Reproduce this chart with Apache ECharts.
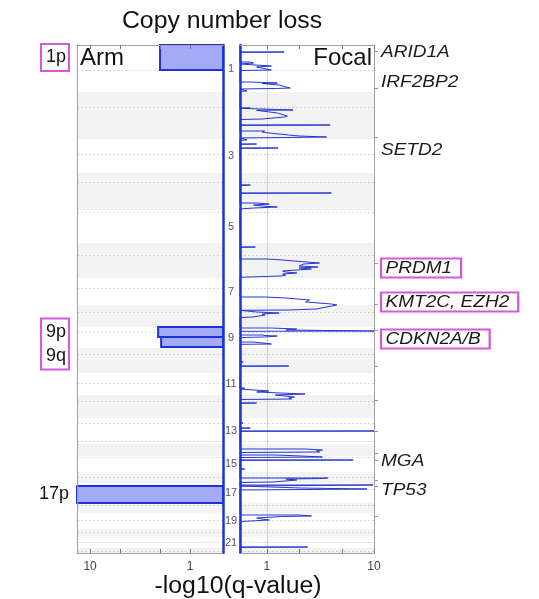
<!DOCTYPE html>
<html><head><meta charset="utf-8">
<script src="https://cdn.jsdelivr.net/npm/echarts@6/dist/echarts.min.js"></script>
<style>html,body{margin:0;padding:0;background:#fff}#c{width:539px;height:599px}</style>
</head><body><div id="c"></div>
<script>
// ---- data (genome position in scaled plot units, 0 = top of chr1) ----
const chromosomes = ['1','2','3','4','5','6','7','8','9','10','11','12','13','14','15','16','17','18','19','20','21','22'];
const chromStart = [0,47,94,128,165,198,233,260,282,303,328,350,373,399,411,427,438,458,468,484,492,503];
const genomeEnd = 508;
const centromeres = [25,62,109,137,167,210,243,267,287,309,338,356,378,396,412,432,444,460,475,487,497,506];

const armNames = ['1p','9p','9q','17p'];
const armStart = [0,282,292,441];
const armEnd = [25,292,302,458];
const armScore = [2.0,2.09,1.95,15];           // -log10(q)
const armLabelText = ['1p','9p\n9q','17p'];
const armLabelPos = [12.5,299,449];
const armLabelBoxed = [true,true,false];

const B = 0.56; // focal baseline (-log10 q at axis minimum)
const focalTrace = [
 [0,B],
 [7,B],[7,1.45],[7.3,B],
 [17,B],[17,0.69],[18,0.75],[19,B],
 [21,B],[21,1.1],[22,0.8],[23,0.8],[25,1.1],[25.5,B],
 [37,B],[37,0.7],[38,1.25],[38.5,0.9],[40,1.3],[42,1.5],[43,1.65],[43.5,1.2],[44,B],
 [46,B],[46,0.65],[46.3,B],
 [63,B],[63,0.7],[63.3,B],
 [65,B],[65,1.75],[65.3,0.8],[68,1.25],[70,1.2],[71,1.55],[72,1.45],[73,1.5],[74,0.9],[74.5,B],
 [80,B],[80,3.9],[80.3,B],
 [86,B],[86,0.95],[87,0.9],[88,1.05],[90,1.6],[91,2.0],[92,3.6],[92.5,1.5],[93,B],
 [95,B],[95,0.65],[95.3,B],
 [99,B],[99,0.8],[99.3,B],
 [103,B],[103,1.27],[103.3,B],
 [140,B],[140,0.7],[140.3,B],
 [148,B],[148,4.0],[148.3,B],
 [158,B],[158,0.8],[159,1.05],[160,0.75],[161,0.9],[162,1.25],[163,0.75],[164,B],
 [202,B],[202,0.78],[202.3,B],
 [214,B],[214,1.0],[215,1.4],[216,1.8],[218,3.1],[219,2.2],[221,2.0],[222,3.0],[223,2.0],[224,2.6],[226,1.4],[227,1.5],[228,1.9],[229,1.4],[230,1.5],[231,1.35],[232,1.3],[232.3,B],
 [252,B],[252,0.96],[253,1.5],[255,2.5],[257,2.3],[259,4.0],[260,4.5],[262,3.6],[264,2.9],[265,1.6],[265.3,B],
 [267,B],[267,0.8],[268,1.3],[269,0.9],[270,0.96],[272,0.74],[272.5,B],
 [283,B],[283,1.1],[284,1.9],[285,1.5],[286,10],[286.3,B],
 [290,B],[290,0.9],[290.5,0.96],[291,1.25],[292,0.95],[292.5,B],
 [297,B],[297,0.75],[299,1.1],[299.3,B],
 [317,B],[317,0.6],[317.3,B],
 [321,B],[321,1.6],[321.3,B],
 [343,B],[343,0.62],[344,B],
 [346,B],[346,1.04],[347,0.8],[349,2.27],[350,1.2],[352,1.8],[353,1.6],[354,1.7],[354.5,B],
 [358,B],[358,0.8],[358.3,B],
 [378,B],[378,0.6],[378.3,B],
 [383,B],[383,0.7],[383.3,B],
 [386,B],[386,10],[386.3,B],
 [404,B],[404,2.3],[405,3.3],[406,2.9],[407,3.1],[407.5,B],
 [410,B],[410,1.2],[411,2.1],[412,3.3],[412.5,B],
 [415,B],[415,6.4],[415.3,B],
 [424,B],[424,0.62],[424.3,B],
 [433,B],[433,3.7],[433.5,3.3],[434,1.5],[435,1.9],[437,1.14],[437.5,B],
 [440,B],[440,9.8],[441,B],
 [442,B],[443,2.1],[444,8.6],[444.5,8.3],[445,B],
 [470,B],[470,2.0],[471,2.6],[471.5,1.4],[473,0.8],[474,0.9],[475,1.05],[476,0.7],[476.5,B],
 [502,B],[502,2.4],[502.3,B],
 [508,B]
];
const peakTicks = [6,43,92,218,259,285,321,355,386,408,415,435,441,471];

const genes = ['ARID1A','IRF2BP2','SETD2','PRDM1','KMT2C, EZH2','CDKN2A/B','MGA','TP53'];
const genePos = [7,37,105,223,257,294,416,445];
const geneBoxed = [false,false,false,true,true,true,false,false];

const armAxisRange = [0.47, 13.5];
const focalAxisRange = [0.56, 10];
const tickValues = [1,2,5,10];
const tickLabelValues = [1,10];

// ---- chart ----
const FONT = '"Liberation Sans", Arial, sans-serif';
const MAGENTA = '#d458d8';
const BLUE = '#1f33d8';
const L = Math.log10;
const armX = [L(armAxisRange[0]), L(armAxisRange[1])];
const focX = [L(focalAxisRange[0]), L(focalAxisRange[1])];

function xAx(grid, xr, inverse, pos, showLabel){
  return {type:'value', gridIndex:grid, min:xr[0], max:xr[1], inverse:inverse, position:pos, z:5,
    axisLine:{show:true, onZero:false, lineStyle:{color:'#a0a0a0', width:1}},
    axisTick:{show:true, inside:true, length:4, customValues: tickValues.map(L), lineStyle:{color:'#777'}},
    axisLabel:{show:showLabel, customValues: tickLabelValues.map(L), formatter: v => String(Math.round(Math.pow(10, v))),
      color:'#444', fontSize:12, margin:8, fontFamily:FONT},
    splitLine:{show:false}};
}
function yAx(grid, pos, color, width, extra){
  return Object.assign({type:'value', gridIndex:grid, min:0, max:genomeEnd, inverse:true, position:pos, z:5,
    axisLine:{show:true, onZero:false, lineStyle:{color:color, width:width}},
    axisTick:{show:false}, axisLabel:{show:false}, splitLine:{show:false}}, extra || {});
}
const chromEnd = i => (i + 1 < chromStart.length ? chromStart[i+1] : genomeEnd);
const chromCenters = chromosomes.map((c, i) => (chromStart[i] + chromEnd(i)) / 2);
const oddCenters = chromCenters.filter((c, i) => i % 2 === 0);

function bandSeries(xi, yi, xr){
  const data = [];
  chromosomes.forEach((c, i) => { if (i % 2 === 1) data.push([xr[0], chromStart[i], chromEnd(i)]); });
  return {type:'custom', xAxisIndex:xi, yAxisIndex:yi, z:1, silent:true, data:data,
    renderItem:(p, api) => {
      const a = api.coord([xr[0], api.value(1)]), b = api.coord([xr[1], api.value(2)]);
      return {type:'rect', shape:{x:Math.min(a[0], b[0]), y:a[1], width:Math.abs(b[0]-a[0]), height:b[1]-a[1]},
        style:{fill:'#f3f3f3'}};
    }};
}
function dotSeries(xi, yi, xr){
  return {type:'custom', xAxisIndex:xi, yAxisIndex:yi, z:1.5, silent:true, data:centromeres.map(c => [xr[0], c]),
    renderItem:(p, api) => {
      const a = api.coord([xr[0], api.value(1)]), b = api.coord([xr[1], api.value(1)]);
      return {type:'line', shape:{x1:a[0], y1:Math.round(a[1])+0.5, x2:b[0], y2:Math.round(a[1])+0.5},
        style:{stroke:'#c9c9c9', lineWidth:1, lineDash:[1.5,2.5]}};
    }};
}

const option = {
  animation:false,
  grid:[
    {left:77, top:45, width:146, height:508, outerBoundsMode:'none'},
    {left:240, top:45, width:134, height:508, outerBoundsMode:'none'}
  ],
  xAxis:[
    xAx(0, armX, true, 'bottom', true),
    xAx(0, armX, true, 'top', false),
    xAx(1, focX, false, 'bottom', true),
    xAx(1, focX, false, 'top', false)
  ],
  yAxis:[
    yAx(0, 'left', '#a0a0a0', 1),
    yAx(0, 'right', BLUE, 2.5),
    yAx(1, 'left', BLUE, 2.5, {
      axisLabel:{show:true, customValues:oddCenters, align:'center', margin:9, fontSize:11, color:'#555', fontFamily:FONT,
        formatter: v => { let k = 0; chromCenters.forEach((c, i) => { if (Math.abs(c - v) < Math.abs(chromCenters[k] - v)) k = i; }); return chromosomes[k]; }}}),
    yAx(1, 'right', '#a0a0a0', 1, {
      axisTick:{show:true, inside:false, length:4, customValues:peakTicks, lineStyle:{color:'#999'}}})
  ],
  graphic:[
    {type:'text', x:222, y:22, originX:0, scaleX:1.08, style:{text:'Copy number loss', font:'23px ' + FONT, fill:'#111', align:'center', verticalAlign:'middle'}},
    {type:'text', x:80, y:58, z:10, style:{text:'Arm', font:'24px ' + FONT, fill:'#111', align:'left', verticalAlign:'middle'}},
    {type:'text', x:372, y:58, z:10, style:{text:'Focal', font:'24px ' + FONT, fill:'#111', align:'right', verticalAlign:'middle'}},
    {type:'text', x:238, y:587, originX:0, scaleX:1.08, style:{text:'-log10(q-value)', font:'23px ' + FONT, fill:'#111', align:'center', verticalAlign:'middle'}}
  ],
  series:[
    bandSeries(0, 0, armX),
    bandSeries(2, 2, focX),
    dotSeries(0, 0, armX),
    dotSeries(2, 2, focX),
    {type:'custom', xAxisIndex:0, yAxisIndex:0, z:3, silent:true,
      data: armNames.map((n, i) => [L(armScore[i]), armStart[i], armEnd[i]]),
      renderItem:(p, api) => {
        const a = api.coord([armX[0], api.value(1)]);
        const b = api.coord([Math.min(api.value(0), armX[1]), api.value(2)]);
        return {type:'rect', shape:{x:Math.min(a[0], b[0]), y:a[1], width:Math.abs(b[0]-a[0]), height:b[1]-a[1]},
          style:{fill:'#a3abf6', stroke:BLUE, lineWidth:2}};
      }},
    {type:'line', xAxisIndex:2, yAxisIndex:2, z:3, silent:true, showSymbol:false, symbol:'none',
      data: focalTrace.map(d => [L(d[1]), d[0]]),
      lineStyle:{color:'#2536cf', width:1},
      markLine:{silent:true, symbol:'none', label:{show:false}, z:1.8,
        lineStyle:{color:'#bfe2b8', type:'solid', width:1}, data:[{xAxis:0}]}},
    {type:'custom', xAxisIndex:2, yAxisIndex:2, z:4, silent:true,
      data: genes.map((g, i) => [focX[1], genePos[i], i]),
      renderItem:(p, api) => {
        const i = api.value(2);
        const c = api.coord([focX[1], api.value(1)]);
        const st = {text:genes[i], font:'italic 17px ' + FONT, fill:'#1a1a1a', align:'left', verticalAlign:'middle'};
        if (geneBoxed[i]) Object.assign(st, {borderColor:MAGENTA, borderWidth:2, padding:[1,8,1,4]});
        return {type:'text', x:c[0] + 7, y:c[1], originX:0, scaleX:1.12, style:st};
      }},
    {type:'custom', xAxisIndex:0, yAxisIndex:0, z:4, silent:true,
      data: armLabelText.map((t, i) => [armX[1], armLabelPos[i], i]),
      renderItem:(p, api) => {
        const i = api.value(2);
        const c = api.coord([armX[1], api.value(1)]);
        const st = {text:armLabelText[i], font:'18px ' + FONT, fill:'#111', align:'right', verticalAlign:'middle', lineHeight:24};
        if (armLabelBoxed[i]) Object.assign(st, {borderColor:MAGENTA, borderWidth:2, padding:[2,3,1,5]});
        return {type:'text', x:c[0] - 8, y:c[1], style:st};
      }}
  ]
};
const chart = echarts.init(document.getElementById('c'), null, {renderer:'canvas'});
chart.setOption(option);
</script></body></html>
